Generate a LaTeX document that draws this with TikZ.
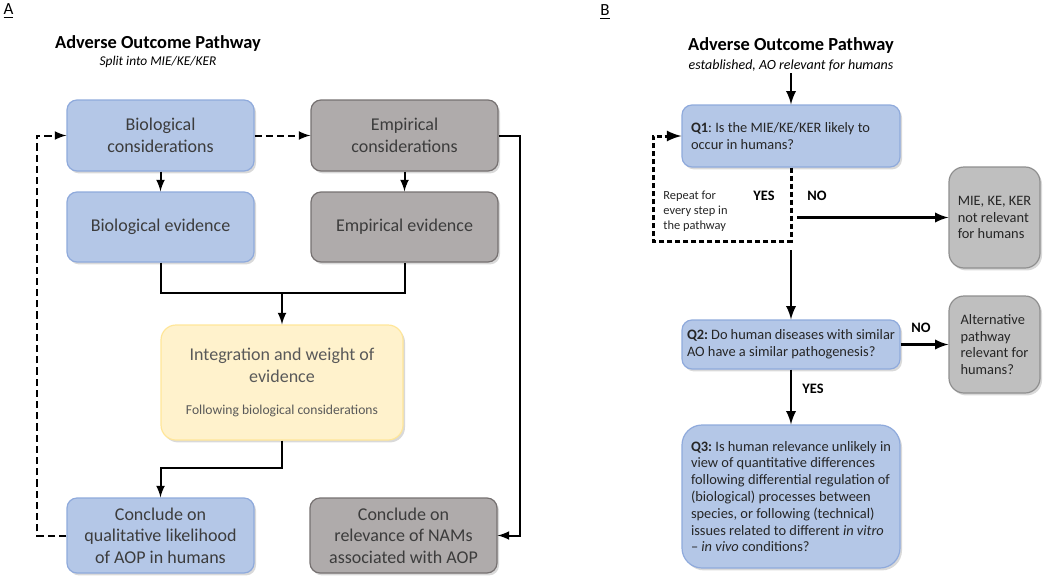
\documentclass[tikz,border=0pt]{standalone}
\usepackage{fontspec}
\setmainfont{Carlito}
\usepackage{xcolor}
\usetikzlibrary{
    arrows,
    calc,
    positioning,
    shadows
}

\definecolor{bluefill}{HTML}{B4C7E7}
\definecolor{blueedge}{HTML}{8FAADC}
\definecolor{greyfill}{HTML}{AFABAB}
\definecolor{greyedge}{HTML}{767171}
\definecolor{palegreyfill}{HTML}{BFBFBF}
\definecolor{palegreyedge}{HTML}{8F8F8F}
\definecolor{yellowfill}{HTML}{FFF2CC}
\definecolor{yellowedge}{HTML}{FFE699}
\definecolor{boxtext}{HTML}{3C3C3C}
\definecolor{softtext}{HTML}{595959}

\tikzset{
    shadowed/.style={drop shadow={shadow xshift=1pt, shadow yshift=-1.2pt, opacity=0.3}},
    boxa/.style={shadowed, rounded corners=5pt, line width=0.6pt, minimum width=93.5pt,
        inner sep=0pt, align=center, text=boxtext, font=\fontsize{9}{10.8}\selectfont},
    bluebox/.style={boxa, draw=blueedge, fill=bluefill},
    greybox/.style={boxa, draw=greyedge, fill=greyfill},
    yellowbox/.style={shadowed, rounded corners=7.5pt, line width=0.6pt, draw=yellowedge,
        fill=yellowfill, minimum width=121pt, minimum height=57.5pt, inner sep=0pt,
        align=center, text=softtext, font=\fontsize{9}{10.8}\selectfont},
    qbox/.style={shadowed, rounded corners=5pt, line width=0.6pt, draw=blueedge, fill=bluefill,
        text width=100pt, inner xsep=4.5pt, inner ysep=0pt, align=flush left, text=black!85,
        font=\fontsize{7.2}{8.4}\selectfont\frenchspacing},
    outbox/.style={shadowed, rounded corners=7.5pt, line width=0.6pt, draw=palegreyedge,
        fill=palegreyfill, minimum width=45.5pt, inner sep=0pt, align=left,
        text=black!85, font=\fontsize{7.2}{8.4}\selectfont},
    title/.style={anchor=base, inner sep=0pt, font=\bfseries\fontsize{9.2}{11}\selectfont},
    subtitle/.style={anchor=base, inner sep=1pt, font=\itshape\fontsize{7}{8.4}\selectfont},
    answer/.style={inner sep=0pt, font=\bfseries\fontsize{7.2}{8.4}\selectfont},
    flowa/.style={line width=1pt},
    flowb/.style={line width=1.3pt},
    loopa/.style={line width=1pt, dash pattern=on 3.6pt off 2pt},
    loopb/.style={line width=1.5pt, dash pattern=on 2.5pt off 1.5pt}
}

\begin{document}
\begin{tikzpicture}[x=0.5pt, y=-0.5pt, >=latex]
    \useasboundingbox (0,0) rectangle (1052,583);

    % panel A
    \node[anchor=base, inner sep=0pt, font=\fontsize{8.5}{10}\selectfont] (labela) at (8.5,15) {\underline{A}};
    \node[title] (titlea) at (158,49) {Adverse Outcome Pathway};
    \node[subtitle, font=\itshape\fontsize{6.7}{8}\selectfont] (subtitlea) at (158,66) {Split into MIE/KE/KER};

    \node[bluebox, minimum height=35.5pt] (biocons) at (160.5,135.5) {Biological\\considerations};
    \node[greybox, minimum height=35.5pt] (empcons) at (404.5,135.5) {Empirical\\considerations};
    \node[bluebox, minimum height=35pt] (bioev) at (160.5,227) {Biological evidence};
    \node[greybox, minimum height=35pt] (empev) at (404.5,227) {Empirical evidence};
    \node[yellowbox] (integ) at (282,382.5) {Integration and weight of\\evidence\\[5pt]{\fontsize{6.8}{8}\selectfont Following biological considerations}};
    \node[bluebox, minimum height=37.5pt] (qual) at (160.5,535.5) {Conclude on\\qualitative likelihood\\of AOP in humans};
    \node[greybox, minimum height=37.5pt] (nams) at (403.5,535.5) {Conclude on\\relevance of NAMs\\associated with AOP};

    \coordinate (merge) at (282,293);
    \coordinate (bend) at (160.5,468);
    \coordinate (rightrail) at (520,135.5);
    \coordinate (leftrail) at (37,300);

    \draw[flowa, ->] (biocons) -- (bioev);
    \draw[flowa, ->] (empcons) -- (empev);
    \draw[flowa] (bioev.south) |- (merge) -| (empev.south);
    \draw[flowa, ->] (merge) -- (integ.north);
    \draw[flowa, ->] (integ.south) |- (bend) -- (qual.north);
    \draw[flowa, ->] (empcons.east) -- (rightrail) |- (nams.east);
    \draw[loopa, ->] (biocons.east) -- (empcons.west);
    \draw[loopa, ->] (qual.west) -| (leftrail) |- (biocons.west);

    % panel B
    \node[anchor=base, inner sep=0pt, font=\fontsize{8.5}{10}\selectfont] (labelb) at (605,16) {\underline{B}};
    \node[title] (titleb) at (791,51) {Adverse Outcome Pathway};
    \node[subtitle] (subtitleb) at (791,69) {established, AO relevant for humans};

    \node[qbox, minimum height=31pt] (q1) at (791,136)
        {\textbf{Q1}: Is the MIE/KE/KER likely to\\occur in humans?};
    \node[qbox, text width=104pt, inner xsep=2.5pt, minimum height=24.5pt] (q2) at (791,344.5)
        {\textbf{Q2:} Do human diseases with similar\\AO have a similar pathogenesis?};
    \node[qbox, minimum height=71.5pt, rounded corners=10pt] (q3) at (791,496.5)
        {\textbf{Q3:} Is human relevance unlikely in\\view of quantitative differences\\following differential regulation of\\(biological) processes between\\species, or following (technical)\\issues related to different \textit{in vitro}\\-- \textit{in vivo} conditions?};
    \node[outbox, minimum height=50.5pt] (notrel) at (994.5,217.5) {MIE, KE, KER\\not relevant\\for humans};
    \node[outbox, minimum height=48.5pt] (altpath) at (994.5,344.5) {Alternative\\pathway\\relevant for\\humans?};

    \node[anchor=west, inner sep=0pt, align=left, text=black!85, font=\fontsize{6.2}{7.5}\selectfont] (repeat) at (663,211)
        {Repeat for\\every step in\\the pathway};
    \node[answer] (yesa) at (764,196) {YES};
    \node[answer] (noa) at (817,196) {NO};
    \node[answer] (nob) at (921,328) {NO};
    \node[answer] (yesb) at (813,389) {YES};

    \coordinate (loopcorner) at (791,241);
    \coordinate (loopleft) at (653,241);
    \coordinate (nostart) at (797,217.5);
    \coordinate (yesstart) at (791,250);

    \draw[flowb, ->] (subtitleb.south) -- (q1.north);
    \draw[loopb, ->] (q1.south) -- (loopcorner) -- (loopleft) |- (q1.west);
    \draw[flowb, ->] (nostart) -- (notrel.west);
    \draw[flowb, ->] (yesstart) -- (q2.north);
    \draw[flowb, ->] (q2.east) -- (altpath.west);
    \draw[flowb, ->] (q2.south) -- (q3.north);
\end{tikzpicture}
\end{document}
